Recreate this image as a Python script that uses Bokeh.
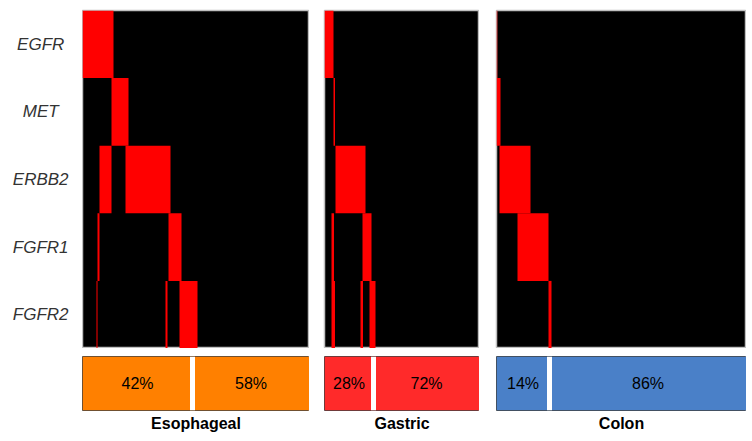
from bokeh.plotting import figure
from bokeh.layouts import row, column
from bokeh.models import Range1d, FactorRange, Span
from bokeh.core.properties import value
from bokeh.embed import file_html
from bokeh.resources import INLINE

# ---- data ----
genes = ["EGFR", "MET", "ERBB2", "FGFR1", "FGFR2"]
cohorts = ["Esophageal", "Gastric", "Colon"]
n_samples = [227, 155, 250]

# altered sample intervals (start, end) per gene, in sample order
eso_alt = {
    "EGFR": [(0, 31)],
    "MET": [(29, 46)],
    "ERBB2": [(17, 29), (43, 88)],
    "FGFR1": [(15, 17), (86, 99)],
    "FGFR2": [(14, 15), (83, 85), (97, 115)],
}
gas_alt = {
    "EGFR": [(0, 9)],
    "MET": [(9, 10.5)],
    "ERBB2": [(11, 41)],
    "FGFR1": [(7, 9.5), (38, 47)],
    "FGFR2": [(7, 10.5), (36, 38.5), (45, 51)],
}
col_alt = {
    "EGFR": [(0, 0.8)],
    "MET": [(0, 4)],
    "ERBB2": [(3, 34)],
    "FGFR1": [(21, 52)],
    "FGFR2": [(52, 55)],
}
alterations = [eso_alt, gas_alt, col_alt]

# summary bars: samples before the split, and printed percentages
bar_split = [110, 49, 53]
altered_pct = ["42%", "28%", "14%"]
unaltered_pct = ["58%", "72%", "86%"]
bar_colors = ["#ff8000", "#ff2a2a", "#4a80c8"]

FONT = "Liberation Sans"
gaps = [0, 15, 17]
HEAT_H = 338
BAR_H = 54
TOP = 10

# ---- gene label column ----
lab = figure(frame_width=82, frame_height=HEAT_H, min_border_left=0, min_border_right=0,
             min_border_top=TOP, min_border_bottom=0,
             x_range=Range1d(0, 1), y_range=FactorRange(factors=genes[::-1]),
             x_axis_location=None, y_axis_location=None,
             toolbar_location=None, output_backend="svg")
lab.outline_line_color = None
lab.grid.visible = False
lab.text(x=[0.49] * len(genes), y=genes, text=genes, text_align="center",
         text_baseline="middle", text_font_size="17px", text_font_style="italic",
         text_color="#333333", text_font=value(FONT))

cols = []
for i, name in enumerate(cohorts):
    N = n_samples[i]
    heat = figure(frame_width=N, frame_height=HEAT_H, min_border_left=gaps[i],
                  min_border_right=0, min_border_top=TOP, min_border_bottom=0,
                  x_range=Range1d(0, N), y_range=FactorRange(factors=genes[::-1]),
                  x_axis_location=None, y_axis_location=None,
                  toolbar_location=None, output_backend="svg")
    heat.background_fill_color = "black"
    heat.outline_line_color = "#c0c0c0"
    heat.outline_line_width = 1.5
    heat.grid.visible = False
    ys, ls, rs = [], [], []
    for g in genes:
        for (s, e) in alterations[i][g]:
            ys.append(g)
            ls.append(s)
            rs.append(e)
    heat.hbar(y=ys, left=ls, right=rs, height=1.0, fill_color="#ff0000", line_color=None)

    bar = figure(frame_width=N, frame_height=BAR_H, min_border_left=gaps[i],
                 min_border_right=0, min_border_top=8, min_border_bottom=0,
                 x_range=Range1d(0, N), y_range=Range1d(0, 1),
                 x_axis_location=None, y_axis_location=None,
                 toolbar_location=None, output_backend="svg",
                 title=name, title_location="below")
    bar.grid.visible = False
    bar.outline_line_color = "#404040"
    bar.outline_line_width = 1
    sp = bar_split[i]
    bar.hbar(y=[0.5, 0.5], left=[0, sp], right=[sp, N], height=1.0,
             fill_color=bar_colors[i], line_color=None)
    bar.add_layout(Span(location=sp, dimension="height", line_color="white", line_width=5))
    bar.text(x=[sp / 2, (sp + N) / 2], y=[0.5, 0.5], text=[altered_pct[i], unaltered_pct[i]],
             text_align="center", text_baseline="middle", text_font_size="16px",
             text_color="black", text_font=value(FONT))
    bar.title.align = "center"
    bar.title.text_font = FONT
    bar.title.text_font_size = "16px"
    bar.title.text_font_style = "bold"
    bar.title.text_color = "black"
    bar.title.standoff = 5
    cols.append(column(heat, bar, spacing=0))

p = row(column(lab), *cols, spacing=0)

open("out.html", "w").write(file_html(p, INLINE))
